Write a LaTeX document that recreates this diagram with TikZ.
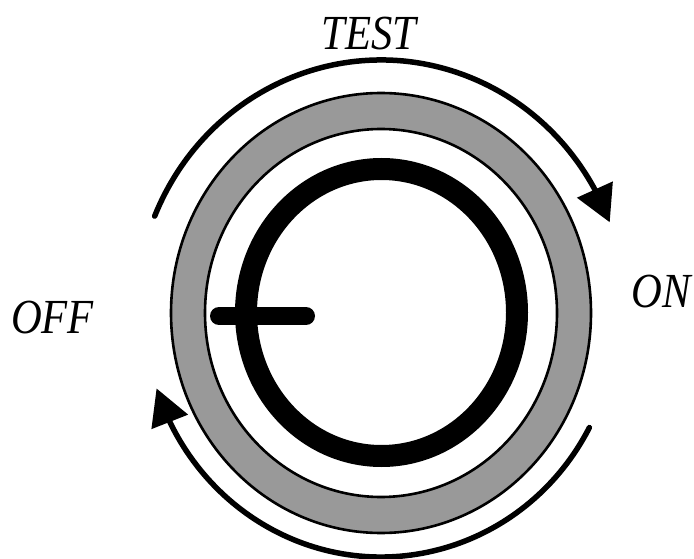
\documentclass[tikz,border=0pt]{standalone}
\usepackage{fontspec}
\newfontfamily\labfont[FakeStretch=0.87]{Liberation Serif}
\usetikzlibrary{arrows.meta,bending,calc}
\definecolor{ringgray}{RGB}{153,153,153}
\begin{document}
\begin{tikzpicture}[x=1pt,y=1pt,
  rimline/.style={draw=black,line width=2.6pt},
  turnarrow/.style={line width=5.5pt,line cap=round,-{Triangle[length=36pt,width=38pt,flex]}},
  lab/.style={font=\labfont\itshape\fontsize{49}{55}\selectfont,inner sep=0pt,anchor=base}]
\useasboundingbox (0,0) rectangle (694,558);
\coordinate (c) at (381,245);
% grey ring
\fill[ringgray,rimline] (c) ellipse[x radius=210pt,y radius=220pt];
\fill[white,rimline] (c) ellipse[x radius=176pt,y radius=184pt];
% knob circle
\draw[line width=22pt] ($(c)+(0.5,0.5)$) ellipse[x radius=135.5pt,y radius=143.5pt];
\coordinate (barL) at (219,242);
\coordinate (barR) at (306,242);
\draw[line width=18pt,line cap=round] (barL) -- (barR);
% arrows
\coordinate (a1) at ($(c)+(157.5:245pt and 253pt)$);
\draw[turnarrow] (a1) arc[start angle=157.5,end angle=21,x radius=245pt,y radius=253pt];
\coordinate (a2) at ($(c)+(-28:236pt and 244pt)$);
\draw[turnarrow] (a2) arc[start angle=-28,end angle=-162,x radius=236pt,y radius=244pt];
% labels
\node[lab] (test) at (369,508) {TEST};
\node[lab] (off) at (52.5,225) {OFF};
\node[lab] (on) at (661,251) {ON};
\end{tikzpicture}
\end{document}
